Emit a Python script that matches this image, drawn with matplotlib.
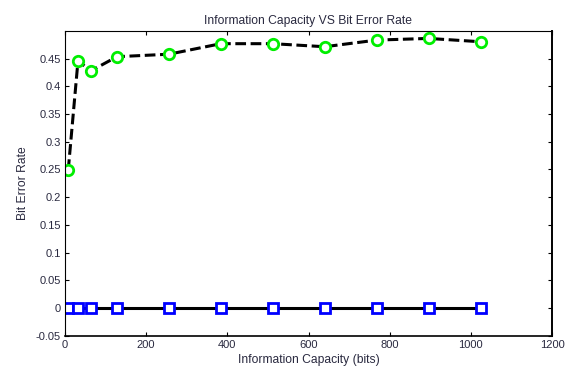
import matplotlib
matplotlib.use("Agg")
import matplotlib.pyplot as plt

capacity_bits = [8, 32, 64, 128, 256, 384, 512, 640, 768, 896, 1024]
ber_dashed = [0.249, 0.446, 0.428, 0.4535, 0.458, 0.477, 0.477, 0.4715, 0.4835, 0.4865, 0.4805]
ber_solid = [0, 0, 0, 0, 0, 0, 0, 0, 0, 0, 0]
x_ticks = [0, 200, 400, 600, 800, 1000, 1200]
y_ticks = [-0.05, 0, 0.05, 0.1, 0.15, 0.2, 0.25, 0.3, 0.35, 0.4, 0.45]
y_ticklabels = ["-0.05", "0", "0.05", "0.1", "0.15", "0.2", "0.25", "0.3", "0.35", "0.4", "0.45"]

plt.rcParams['font.family'] = ['Liberation Sans', 'DejaVu Sans']
txt = '#2a2a40'

fig = plt.figure(figsize=(5.71, 3.70), dpi=100)
ax = fig.add_axes([65/571, 1-335.6/370, (552-65)/571, (335.6-31)/370])

ax.plot(capacity_bits, ber_dashed, linestyle=(0, (3.5, 1.5)), color='black', linewidth=2.2,
        marker='o', markersize=7.5, markerfacecolor='white', markeredgecolor='#00ee00',
        markeredgewidth=2.0)
ax.plot(capacity_bits, ber_solid, linestyle='-', color='black', linewidth=2.2,
        marker='s', markersize=7, markerfacecolor='white', markeredgecolor='#0000ff',
        markeredgewidth=2.0)

ax.set_xlim(0, 1200)
ax.set_ylim(-0.05, 0.4999)
ax.set_xticks(x_ticks)
ax.set_yticks(y_ticks)
ax.set_yticklabels(y_ticklabels)
ax.tick_params(direction='in', top=True, right=True, labelsize=8, length=3,
               colors='black', labelcolor=txt, pad=3)
for s in ax.spines.values():
    s.set_linewidth(0.8)
ax.spines['right'].set_linewidth(1.4)
ax.spines['bottom'].set_linewidth(1.2)

ax.set_title('Information Capacity VS Bit Error Rate', fontsize=8.7, color=txt, pad=5)
ax.set_xlabel('Information Capacity (bits)', fontsize=8.7, color=txt, labelpad=3)
ax.set_ylabel('Bit Error Rate', fontsize=8.7, color=txt, labelpad=5)

fig.savefig('out.png', dpi=100)
